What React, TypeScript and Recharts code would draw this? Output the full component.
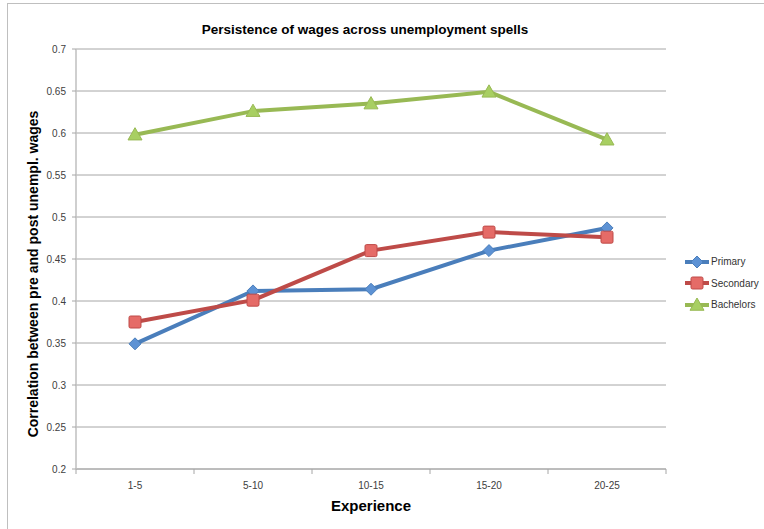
import { CartesianGrid, Label, Line, LineChart, XAxis, YAxis } from "recharts"

const experience = ["1-5", "5-10", "10-15", "15-20", "20-25"]
const primary = [0.349, 0.412, 0.414, 0.46, 0.487]
const secondary = [0.375, 0.401, 0.46, 0.482, 0.476]
const bachelors = [0.598, 0.626, 0.635, 0.649, 0.592]
const yTicks = [0.2, 0.25, 0.3, 0.35, 0.4, 0.45, 0.5, 0.55, 0.6, 0.65, 0.7]

const title = "Persistence of wages across unemployment spells"
const yLabel = "Correlation between pre and post unempl. wages"
const xLabel = "Experience"

type Shape = "diamond" | "square" | "triangle"

const series: { key: string; name: string; stroke: string; fill: string; shape: Shape }[] = [
  { key: "primary", name: "Primary", stroke: "#4A7EBB", fill: "#5D92D4", shape: "diamond" },
  { key: "secondary", name: "Secondary", stroke: "#BE4B48", fill: "#E56B67", shape: "square" },
  { key: "bachelors", name: "Bachelors", stroke: "#98B954", fill: "#A8CF62", shape: "triangle" },
]

const data = experience.map((exp, i) => ({
  exp,
  primary: primary[i],
  secondary: secondary[i],
  bachelors: bachelors[i],
}))

const W = 764
const H = 529
const PLOT_LEFT = 76
const PLOT_RIGHT = 666
const FONT = "'Liberation Sans', Arial, sans-serif"
const halfBand = (PLOT_RIGHT - PLOT_LEFT) / experience.length / 2

function Marker({ cx, cy, shape, stroke, fill }: { cx: number; cy: number; shape: Shape; stroke: string; fill: string }) {
  if (cx == null || cy == null) return null
  if (shape === "diamond") {
    const r = 6
    return (
      <polygon
        points={`${cx},${cy - r} ${cx + r},${cy} ${cx},${cy + r} ${cx - r},${cy}`}
        fill={fill}
        stroke={stroke}
        strokeWidth={1}
      />
    )
  }
  if (shape === "square") {
    const r = 6
    return <rect x={cx - r} y={cy - r} width={r * 2} height={r * 2} rx={1.5} fill={fill} stroke={stroke} strokeWidth={1} />
  }
  const r = 7
  return (
    <polygon
      points={`${cx},${cy - r} ${cx + r},${cy + r * 0.75} ${cx - r},${cy + r * 0.75}`}
      fill={fill}
      stroke={stroke}
      strokeWidth={1}
    />
  )
}

function CategoryTick(props: any) {
  const { x, y, payload, index } = props
  const last = index === experience.length - 1
  return (
    <g>
      <line x1={x - halfBand} x2={x - halfBand} y1={y - 8} y2={y - 3} stroke="#A6A6A6" />
      {last && <line x1={x + halfBand} x2={x + halfBand} y1={y - 8} y2={y - 3} stroke="#A6A6A6" />}
      <text x={x} y={y + 12} textAnchor="middle" fontSize={10} fill="#404040" fontFamily={FONT}>
        {payload.value}
      </text>
    </g>
  )
}

function LegendBox() {
  return (
    <div style={{ position: "absolute", left: 684, top: 251, fontFamily: FONT, fontSize: 10, color: "#333" }}>
      {series.map((s) => (
        <div key={s.key} style={{ display: "flex", alignItems: "center", height: 21.5 }}>
          <svg width={26} height={16}>
            <line x1={1} x2={25} y1={8} y2={8} stroke={s.stroke} strokeWidth={4} />
            <Marker cx={13} cy={8} shape={s.shape} stroke={s.stroke} fill={s.fill} />
          </svg>
          <span style={{ marginLeft: 1 }}>{s.name}</span>
        </div>
      ))}
    </div>
  )
}

export default function App() {
  return (
    <div style={{ position: "fixed", left: 0, top: 0, width: W, height: H, background: "#fff", overflow: "hidden" }}>
      <div
        style={{
          position: "absolute",
          left: 7,
          top: 3,
          width: W,
          height: H,
          borderLeft: "1px solid #BFBFBF",
          borderTop: "1px solid #BFBFBF",
        }}
      />
      <div
        style={{
          position: "absolute",
          left: 0,
          width: 730,
          top: 22,
          textAlign: "center",
          fontFamily: FONT,
          fontWeight: "bold",
          fontSize: 13.5,
          color: "#000",
        }}
      >
        {title}
      </div>
      <div style={{ position: "absolute", left: 0, top: 0 }}>
        <LineChart width={W} height={H} data={data} margin={{ top: 49, right: 98, bottom: 0, left: 0 }}>
          <CartesianGrid horizontal vertical={false} stroke="#A6A6A6" />
          <XAxis
            dataKey="exp"
            height={60}
            padding={{ left: halfBand, right: halfBand }}
            axisLine={{ stroke: "#A6A6A6" }}
            tickLine={false}
            tick={<CategoryTick />}
            interval={0}
          >
            <Label
              content={() => (
                <text x={371} y={511} textAnchor="middle" fontSize={15} fontWeight="bold" fontFamily={FONT} fill="#000">
                  {xLabel}
                </text>
              )}
            />
          </XAxis>
          <YAxis
            width={PLOT_LEFT}
            domain={[0.2, 0.7]}
            ticks={yTicks}
            interval={0}
            axisLine={{ stroke: "#BFBFBF", strokeWidth: 1.5 }}
            tickLine={{ stroke: "#A6A6A6" }}
            tickSize={4}
            tickMargin={6}
            tick={{ fontSize: 10, fill: "#404040", fontFamily: FONT }}
            tickFormatter={(v: number) => String(Math.round(v * 100) / 100)}
          >
            <Label
              content={() => (
                <text
                  x={38}
                  y={274}
                  transform="rotate(-90, 38, 274)"
                  textAnchor="middle"
                  fontSize={14}
                  fontWeight="bold"
                  fontFamily={FONT}
                  fill="#000"
                >
                  {yLabel}
                </text>
              )}
            />
          </YAxis>
          {series.map((s) => (
            <Line
              key={s.key}
              dataKey={s.key}
              name={s.name}
              type="linear"
              stroke={s.stroke}
              strokeWidth={4}
              isAnimationActive={false}
              dot={(p: any) => <Marker key={`${s.key}-${p.index}`} cx={p.cx} cy={p.cy} shape={s.shape} stroke={s.stroke} fill={s.fill} />}
              activeDot={false}
            />
          ))}
        </LineChart>
      </div>
      <LegendBox />
    </div>
  )
}
